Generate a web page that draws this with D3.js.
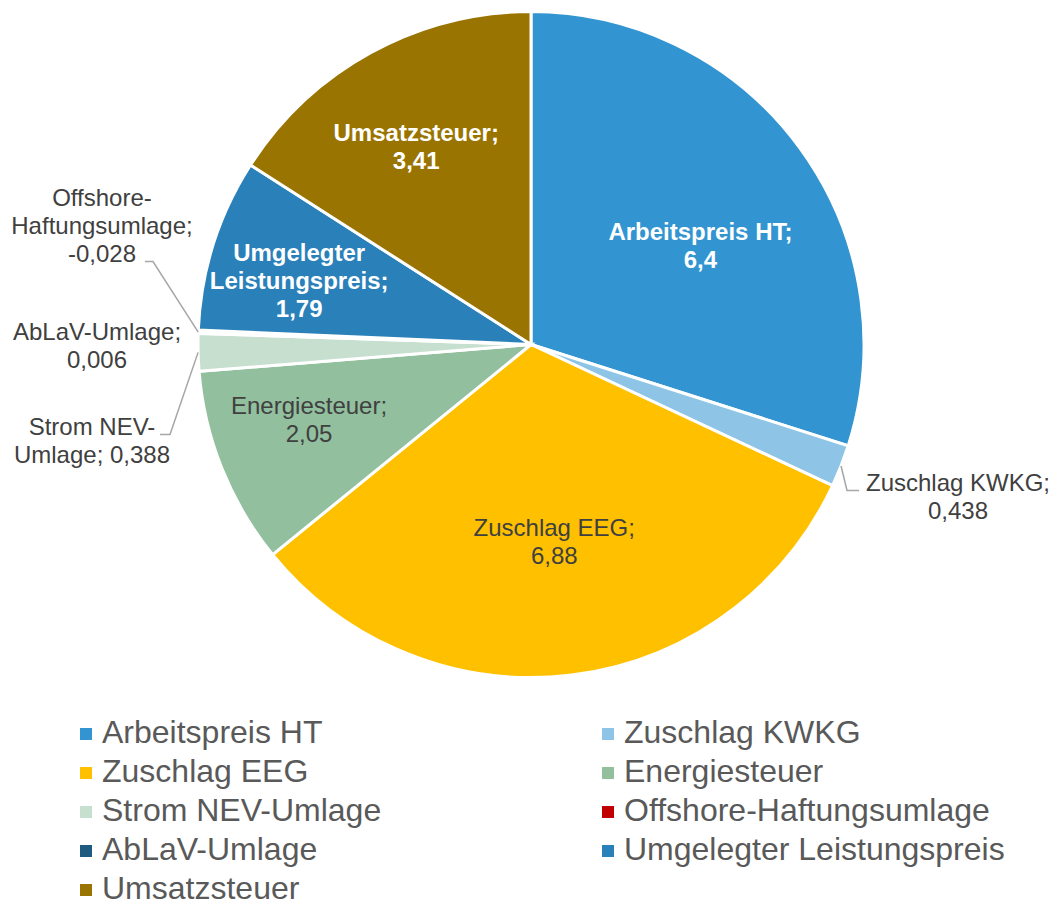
<!DOCTYPE html>
<html>
<head>
<meta charset="utf-8">
<script src="https://cdn.jsdelivr.net/npm/d3@7"></script>
<style>
  html, body { margin: 0; padding: 0; background: #fff; }
  svg { display: block; font-family: "Liberation Sans", Arial, sans-serif; }
</style>
</head>
<body>
<svg id="chart" width="1053" height="901"></svg>
<script>
// ---- data ----
const categories = ["Arbeitspreis HT", "Zuschlag KWKG", "Zuschlag EEG", "Energiesteuer",
  "Strom NEV-Umlage", "Offshore-Haftungsumlage", "AbLaV-Umlage",
  "Umgelegter Leistungspreis", "Umsatzsteuer"];
const values = [6.4, 0.438, 6.88, 2.05, 0.388, -0.028, 0.006, 1.79, 3.41];
const valueLabels = ["6,4", "0,438", "6,88", "2,05", "0,388", "-0,028", "0,006", "1,79", "3,41"];
const colors = ["#3294D0", "#8EC5E6", "#FFC000", "#92BF9E", "#C6DFCF", "#C00000", "#1F5A80", "#2A80B9", "#9A7400"];
const legendOrder = [0, 1, 2, 3, 4, 5, 6, 7, 8];

// label text lines per category
const labelLines = [
  ["Arbeitspreis HT;", valueLabels[0]],
  ["Zuschlag KWKG;", valueLabels[1]],
  ["Zuschlag EEG;", valueLabels[2]],
  ["Energiesteuer;", valueLabels[3]],
  ["Strom NEV-", "Umlage; " + valueLabels[4]],
  ["Offshore-", "Haftungsumlage;", valueLabels[5]],
  ["AbLaV-Umlage;", valueLabels[6]],
  ["Umgelegter", "Leistungspreis;", valueLabels[7]],
  ["Umsatzsteuer;", valueLabels[8]]
];

const svg = d3.select("#chart");
const cx = 531, cy = 344.5, R = 333;
const g = svg.append("g").attr("transform", `translate(${cx},${cy})`);

const data = categories.map((c, i) => ({ name: c, value: values[i], i }));
const pie = d3.pie().sort(null).value(d => Math.abs(d.value)).startAngle(0).endAngle(2 * Math.PI);
const arcs = pie(data);
const arc = d3.arc().innerRadius(0).outerRadius(R);

g.selectAll("path.slice").data(arcs).join("path")
  .attr("class", "slice")
  .attr("d", arc)
  .attr("fill", d => colors[d.data.i])
  .attr("stroke", "#fff")
  .attr("stroke-width", 3)
  .attr("stroke-linejoin", "miter");

const fs = 24, lh = 28;
function polar(a, r) { return [r * Math.sin(a), -r * Math.cos(a)]; }

// inside labels: placed along a radius through the slice, with angle/radius factors
const inside = {
  0: { rf: 0.59, da: 0.10, bold: true, color: "#fff" },
  2: { rf: 0.595, da: 0.005, bold: false, color: "#404040" },
  3: { rf: 0.703, da: 0.058, bold: false, color: "#404040" },
  7: { rf: 0.722, da: -0.038, bold: true, color: "#fff" },
  8: { rf: 0.688, da: -0.024, bold: true, color: "#fff" }
};
arcs.forEach(a => {
  const k = a.data.i;
  const cfg = inside[k];
  if (!cfg) return;
  const mid = (a.startAngle + a.endAngle) / 2 + cfg.da;
  const [x, y] = polar(mid, R * cfg.rf);
  const lines = labelLines[k];
  const t = g.append("text")
    .attr("text-anchor", "middle")
    .attr("font-size", fs)
    .attr("font-weight", cfg.bold ? "bold" : "normal")
    .attr("fill", cfg.color);
  const y0 = y - (lines.length - 1) * lh / 2 + fs * 0.36;
  lines.forEach((s, j) => t.append("tspan").attr("x", x).attr("y", y0 + j * lh).text(s));
});

// outside labels with leader lines (label centre offsets relative to pie centre)
const outside = {
  1: { lx: 427, ly: 152, elbow: [316, 146], end: [328, 146], leader: true },
  4: { lx: -439, ly: 96, elbow: [-361, 90], end: [-371, 90], leader: true },
  5: { lx: -429, ly: -119, elbow: [-378, -83], end: [-386, -83], leader: true },
  6: { lx: -434, ly: 1, leader: false }
};
arcs.forEach(a => {
  const k = a.data.i;
  const cfg = outside[k];
  if (!cfg) return;
  const mid = (a.startAngle + a.endAngle) / 2;
  const lines = labelLines[k];
  if (cfg.leader) {
    const p0 = polar(mid, R);
    g.append("path")
      .attr("d", d3.line()([p0, cfg.elbow, cfg.end]))
      .attr("fill", "none")
      .attr("stroke", "#A6A6A6")
      .attr("stroke-width", 1.5);
  }
  const t = g.append("text")
    .attr("text-anchor", "middle")
    .attr("font-size", fs)
    .attr("fill", "#404040");
  const y0 = cfg.ly - (lines.length - 1) * lh / 2 + fs * 0.36;
  lines.forEach((s, j) => t.append("tspan").attr("x", cfg.lx).attr("y", y0 + j * lh).text(s));
});

// legend
const legend = svg.append("g");
const colX = [80, 602], rowY0 = 743, rowH = 39, sq = 12;
legendOrder.forEach((k, n) => {
  const col = n % 2, row = Math.floor(n / 2);
  const x = colX[col], y = rowY0 + row * rowH;
  legend.append("rect").attr("x", x).attr("y", y - 15).attr("width", sq).attr("height", sq)
    .attr("fill", colors[k]);
  legend.append("text").attr("x", x + 22).attr("y", y)
    .attr("font-size", 32).attr("fill", "#595959").text(categories[k]);
});
</script>
</body>
</html>
